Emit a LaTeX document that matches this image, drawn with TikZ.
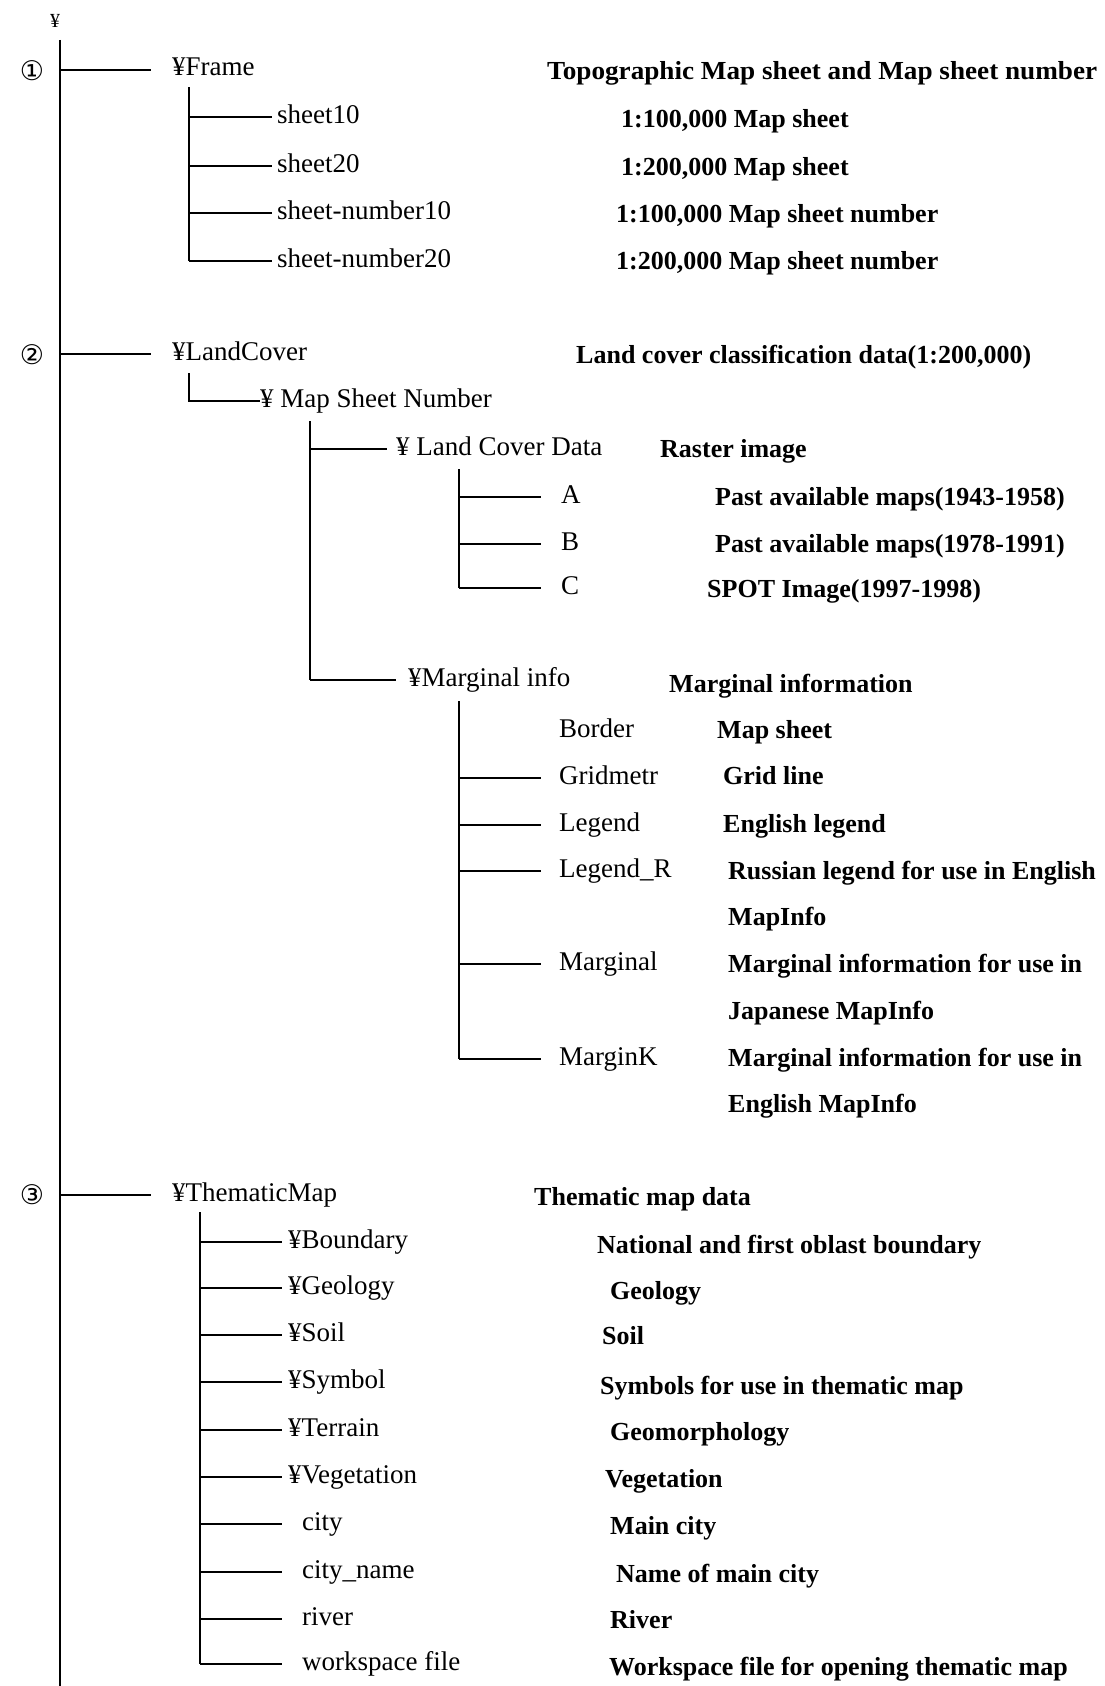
\documentclass[tikz,border=0pt]{standalone}
\usepackage{fontspec}
\setmainfont{Liberation Serif}
\newfontfamily\dejavu{DejaVu Sans}
\begin{document}
\begin{tikzpicture}[x=1pt,y=-1pt,
 lab/.style={anchor=west, inner sep=0pt, font=\fontsize{27}{31}\selectfont, text height=18pt, text depth=6pt},
 desc/.style={lab, font=\fontsize{26}{30}\selectfont\bfseries},
 circ/.style={inner sep=0pt, font=\dejavu\fontsize{27}{30}\selectfont},
 trunk/.style={line width=2pt},
 br/.style={line width=1.3pt}]
\useasboundingbox[fill=white] (0,0) rectangle (1104,1686);
% root
\node[inner sep=0pt, font=\fontsize{20}{24}\selectfont] (root) at (55,21) {¥};
\coordinate (tt) at (60,40);
\coordinate (tb) at (60,1686);
\draw[trunk] (tt) -- (tb);

% ===== Section 1
\node[circ] (c1) at (32,71) {①};
\node[lab] (frame) at (172,70) {¥Frame};
\draw[br, shorten >=21pt] (tt |- frame.west) -- (frame.west);
\coordinate (fv) at (189,87);
\node[lab] (s10) at (277,117) {sheet10};
\node[lab] (s20) at (277,166) {sheet20};
\node[lab] (sn10) at (277,213) {sheet-number10};
\node[lab] (sn20) at (277,261) {sheet-number20};
\draw[br] (fv) -- (fv |- sn20.west);
\foreach \n in {s10,s20,sn10,sn20}{\draw[br, shorten >=5pt] (fv |- \n.west) -- (\n.west);}
\node[desc] (d0) at (547,73) {\scalebox{1.045}[1]{Topographic Map sheet and Map sheet number}};
\node[desc] (d1) at (621,121) {1:100,000 Map sheet};
\node[desc] (d2) at (621,169) {1:200,000 Map sheet};
\node[desc] (d3) at (616,216) {1:100,000 Map sheet number};
\node[desc] (d4) at (616,263) {1:200,000 Map sheet number};

% ===== Section 2
\node[circ] (c2) at (32,355) {②};
\node[lab] (lc) at (172,354) {¥LandCover};
\draw[br, shorten >=21pt] (tt |- lc.west) -- (lc.west);
\node[desc] (dlc) at (576,357) {Land cover classification data(1:200,000)};
\coordinate (lv) at (189,373);
\node[lab] (msn) at (260,401) {¥ Map Sheet Number};
\draw[br] (lv) |- (msn.west);
\coordinate (mv) at (310,421);
\node[lab] (lcd) at (396,449) {¥ Land Cover Data};
\node[desc] (dlcd) at (660,451) {Raster image};
\node[lab] (mi) at (408,680) {¥Marginal info};
\node[desc] (dmi) at (669,686) {Marginal information};
\draw[br] (mv) -- (mv |- mi.west);
\draw[br, shorten >=9pt] (mv |- lcd.west) -- (lcd.west);
\draw[br, shorten >=12pt] (mv |- mi.west) -- (mi.west);
% A B C
\coordinate (av) at (459,469);
\node[lab] (A) at (561,497) {A};
\node[lab] (B) at (561,544) {B};
\node[lab] (C) at (561,588) {C};
\draw[br] (av) -- (av |- C.west);
\foreach \n in {A,B,C}{\draw[br, shorten >=20pt] (av |- \n.west) -- (\n.west);}
\node[desc] (dA) at (715,499) {Past available maps(1943-1958)};
\node[desc] (dB) at (715,546) {Past available maps(1978-1991)};
\node[desc] (dC) at (707,591) {SPOT Image(1997-1998)};
% marginal items
\coordinate (gv) at (459,701);
\node[lab] (bor) at (559,731) {Border};
\node[lab] (gri) at (559,778) {Gridmetr};
\node[lab] (leg) at (559,825) {Legend};
\node[lab] (legr) at (559,871) {Legend\_R};
\node[lab] (mar) at (559,964) {Marginal};
\node[lab] (mark) at (559,1059) {MarginK};
\draw[br] (gv) -- (gv |- mark.west);
\foreach \n in {gri,leg,legr,mar,mark}{\draw[br, shorten >=18pt] (gv |- \n.west) -- (\n.west);}
\node[desc] (dbor) at (717,732) {Map sheet};
\node[desc] (dgri) at (723,778) {Grid line};
\node[desc] (dleg) at (723,826) {English legend};
\node[desc] (dlegr) at (728,873) {Russian legend for use in English};
\node[desc] (dlegr2) at (728,919) {MapInfo};
\node[desc] (dmar) at (728,966) {Marginal information for use in};
\node[desc] (dmar2) at (728,1013) {Japanese MapInfo};
\node[desc] (dmark) at (728,1060) {Marginal information for use in};
\node[desc] (dmark2) at (728,1106) {English MapInfo};

% ===== Section 3
\node[circ] (c3) at (32,1195) {③};
\node[lab] (tm) at (172,1195) {¥ThematicMap};
\draw[br, shorten >=21pt] (tt |- tm.west) -- (tm.west);
\node[desc] (dtm) at (534,1199) {Thematic map data};
\coordinate (tv) at (200,1212);
\node[lab] (t1) at (288,1242) {¥Boundary};
\node[lab] (t2) at (288,1288) {¥Geology};
\node[lab] (t3) at (288,1335) {¥Soil};
\node[lab] (t4) at (288,1382) {¥Symbol};
\node[lab] (t5) at (288,1430) {¥Terrain};
\node[lab] (t6) at (288,1477) {¥Vegetation};
\node[lab] (t7) at (302,1524) {city};
\node[lab] (t8) at (302,1572) {city\_name};
\node[lab] (t9) at (302,1619) {river};
\node[lab] (t10) at (302,1664) {workspace file};
\draw[br] (tv) -- (tv |- t10.west);
\foreach \n in {t1,t2,t3,t4,t5,t6}{\draw[br, shorten >=6pt] (tv |- \n.west) -- (\n.west);}
\foreach \n in {t7,t8,t9,t10}{\draw[br, shorten >=20pt] (tv |- \n.west) -- (\n.west);}
\node[desc] (e1) at (597,1247) {National and first oblast boundary};
\node[desc] (e2) at (610,1293) {Geology};
\node[desc] (e3) at (602,1338) {Soil};
\node[desc] (e4) at (600,1388) {Symbols for use in thematic map};
\node[desc] (e5) at (610,1434) {Geomorphology};
\node[desc] (e6) at (605,1481) {Vegetation};
\node[desc] (e7) at (610,1528) {Main city};
\node[desc] (e8) at (616,1576) {Name of main city};
\node[desc] (e9) at (610,1622) {River};
\node[desc] (e10) at (609,1669) {Workspace file for opening thematic map};
\end{tikzpicture}
\end{document}
